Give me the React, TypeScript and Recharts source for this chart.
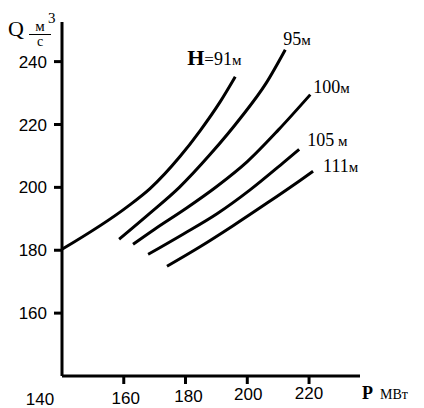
import { CartesianGrid, LabelList, Line, LineChart, XAxis, YAxis } from "recharts";

// P, MW (x) and Q, m3/s (y) for each head H
const H91 = [
  { p: 140, q: 180.3 },
  { p: 161.1, q: 193.8 },
  { p: 168.5, q: 199.6 },
  { p: 178.2, q: 209.8 },
  { p: 184.7, q: 218.0 },
  { p: 191.2, q: 227.2 },
  { p: 196.1, q: 235.2 },
];
const H95 = [
  { p: 158.5, q: 183.5 },
  { p: 168.5, q: 191.8 },
  { p: 178, q: 200.0 },
  { p: 188, q: 210.5 },
  { p: 198, q: 222.3 },
  { p: 206, q: 233.0 },
  { p: 212.3, q: 243.8 },
];
const H100 = [
  { p: 163.0, q: 181.9 },
  { p: 170, q: 186.7 },
  { p: 180, q: 193.2 },
  { p: 190, q: 200.2 },
  { p: 200, q: 208.2 },
  { p: 210, q: 218.2 },
  { p: 220.4, q: 229.5 },
];
const H105 = [
  { p: 167.9, q: 178.7 },
  { p: 179.2, q: 185.1 },
  { p: 190.2, q: 191.6 },
  { p: 200.9, q: 199.2 },
  { p: 211.6, q: 207.8 },
  { p: 216.8, q: 212.1 },
];
const H111 = [
  { p: 174.0, q: 174.9 },
  { p: 184.7, q: 181.1 },
  { p: 195.4, q: 187.8 },
  { p: 206.4, q: 195.0 },
  { p: 217.1, q: 202.2 },
  { p: 221.3, q: 205.1 },
];

const X_TICKS = [140, 160, 180, 200, 220];
const Y_TICKS = [160, 180, 200, 220, 240];

const SERIES = [
  { name: "91", data: H91, dx: -48, dy: -12 },
  { name: "95", data: H95, dx: -2, dy: -5 },
  { name: "100", data: H100, dx: 3, dy: -2 },
  { name: "105", data: H105, dx: 8, dy: -3 },
  { name: "111", data: H111, dx: 10, dy: 1 },
];

const serif = "'Liberation Serif', 'Times New Roman', serif";
const sans = "'Liberation Sans', Arial, sans-serif";

// the original labels sit a bit unevenly under the axis
const X_LABEL_SHIFT: Record<number, [number, number]> = {
  140: [-22, 29],
  160: [2, 28],
  180: [3, 26],
  200: [1, 24],
  220: [0, 23],
};

function XTick(props: any) {
  const { x, y, payload } = props;
  const v = payload.value;
  const [sx, sy] = X_LABEL_SHIFT[v] || [0, 26];
  return (
    <g>
      {v !== 140 && <line x1={x} y1={y} x2={x} y2={y + 8} stroke="#000" strokeWidth={3} />}
      <text x={x + sx} y={y + sy} textAnchor="middle" fontSize={17} fontFamily={sans} fill="#000">
        {v}
      </text>
    </g>
  );
}

function curveLabel(s: (typeof SERIES)[number]) {
  return (props: any) => {
    if (props.index !== s.data.length - 1) return null;
    const x = props.x + s.dx;
    const y = props.y + s.dy;
    return (
      <text x={x} y={y} fontFamily={serif} fill="#000">
        {s.name === "91" && (
          <tspan fontSize={22} fontWeight="bold">
            H
          </tspan>
        )}
        {s.name === "91" && <tspan fontSize={17}>=</tspan>}
        <tspan fontSize={18}>{s.name}</tspan>
        <tspan fontSize={15}>{s.name === "105" ? " м" : "м"}</tspan>
      </text>
    );
  };
}

export default function App() {
  return (
    <div style={{ position: "absolute", left: 0, top: 0, width: 424, height: 408, background: "#fff" }}>
      <LineChart width={424} height={408} margin={{ top: 22, right: 64, left: 12, bottom: 2 }}>
        <CartesianGrid stroke="none" />
        <XAxis
          type="number"
          dataKey="p"
          domain={[140, 236.5]}
          ticks={X_TICKS}
          allowDataOverflow
          height={30}
          tickSize={0}
          tickMargin={0}
          tickLine={false}
          axisLine={{ stroke: "#000", strokeWidth: 3 }}
          tick={<XTick />}
          interval={0}
        />
        <YAxis
          type="number"
          domain={[140, 252.6]}
          ticks={Y_TICKS}
          allowDataOverflow
          width={50}
          tickSize={8}
          tickMargin={7}
          tickLine={{ stroke: "#000", strokeWidth: 3 }}
          axisLine={{ stroke: "#000", strokeWidth: 3 }}
          tick={{ fontSize: 17, fontFamily: sans, fill: "#000" }}
          interval={0}
        />
        {SERIES.map((s) => (
          <Line
            key={s.name}
            data={s.data}
            dataKey="q"
            type="monotone"
            stroke="#000"
            strokeWidth={3}
            dot={false}
            isAnimationActive={false}
          >
            <LabelList dataKey="q" content={curveLabel(s)} />
          </Line>
        ))}
      </LineChart>
      <svg width={424} height={408} style={{ position: "absolute", left: 0, top: 0, pointerEvents: "none" }}>
        <text x={8} y={36} fontSize={22} fontFamily={serif} fill="#000">
          Q
        </text>
        <text x={40} y={31} fontSize={15} fontFamily={serif} fill="#000" textAnchor="middle">
          м
        </text>
        <text x={48} y={23} fontSize={15} fontFamily={serif} fill="#000">
          3
        </text>
        <line x1={29} y1={34.5} x2={51} y2={34.5} stroke="#000" strokeWidth={1} />
        <text x={40} y={46} fontSize={14} fontFamily={serif} fill="#000" textAnchor="middle">
          с
        </text>
        <text x={362} y={399} fontSize={18} fontWeight="bold" fontFamily={serif} fill="#000">
          P
        </text>
        <text x={380} y={399} fontSize={14} fontFamily={serif} fill="#000">
          МВт
        </text>
      </svg>
    </div>
  );
}
